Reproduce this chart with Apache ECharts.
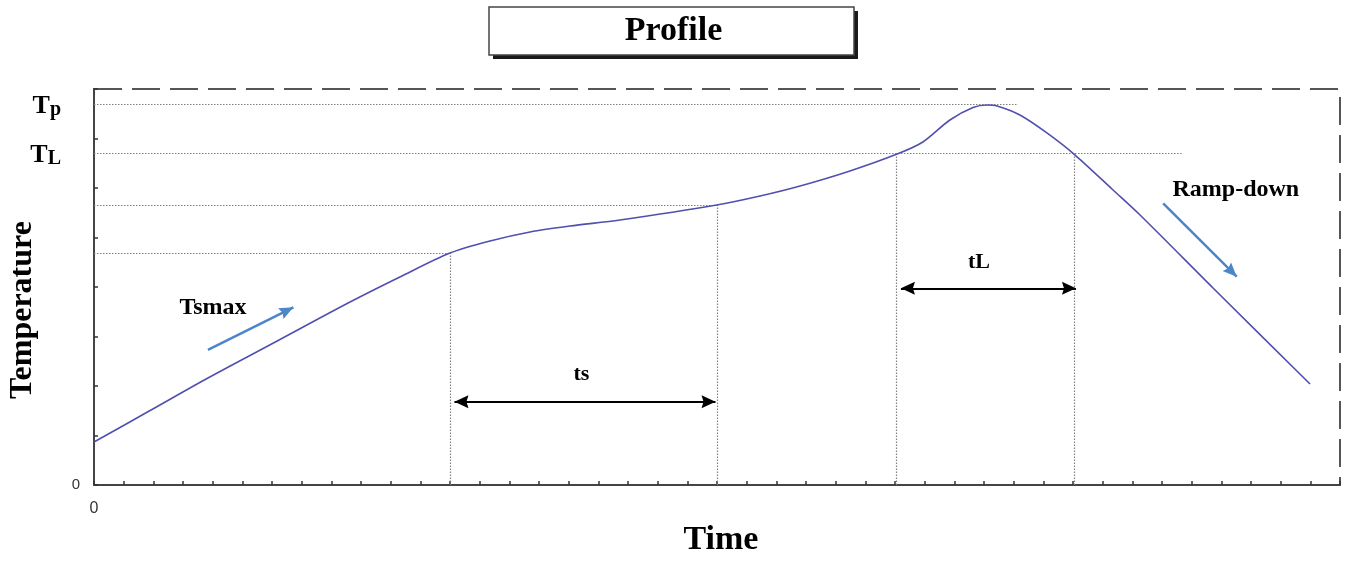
<!DOCTYPE html>
<html><head><meta charset="utf-8">
<script src="https://cdn.jsdelivr.net/npm/echarts@6/dist/echarts.min.js"></script>
<style>html,body{margin:0;padding:0;background:#fff}#c{width:1347px;height:561px}</style>
</head><body><div id="c"></div>
<script>
// Reflow profile curve (time units, temperature units)
const curveTime = [0, 1.89, 3.84, 6.27, 8.63, 10.31, 12, 13.35, 14.7, 16.04, 17.73, 20.99, 22.45, 23.8, 25.48, 27.07, 27.94, 28.85, 29.63, 30.1, 30.44, 31.21, 32.12, 33.07, 34.35, 35.26, 37.72, 40.99];
const curveTemp = [43.4, 75.2, 108.1, 147, 184.8, 210.1, 234.3, 246.5, 255.6, 261.6, 267.7, 282.8, 291.9, 302, 317.2, 334.3, 346.5, 368.7, 381.3, 383.8, 382.8, 373.7, 355.6, 333.3, 298, 272.7, 199, 102];

// Horizontal dotted guide levels and where they end
const guideLevels = [384.5, 335, 282.8, 234.2];
const guideLevelEnd = [31.15, 36.67, 21, 12];
// Vertical dotted guides and their tops
const guideTimes = [12, 21, 27.05, 33.05];
const guideTimeTop = [234.2, 282.8, 335, 335];

// Named temperature levels on the y axis
const levelNames = ['Tp', 'TL'];
const levelValues = [384.5, 335];

// Double-headed span arrows
const spanNames = ['ts', 'tL'];
const spanStart = [12.15, 27.2];
const spanEnd = [20.95, 33.1];
const spanTemp = [84.1, 198.7];
const spanLabelTime = [16.43, 29.83];
const spanLabelTemp = [111.9, 224.7];

// Trend arrows
const trendNames = ['Tsmax', 'Ramp-down'];
const trendFromTime = [3.84, 36.04];
const trendFromTemp = [136.4, 284.5];
const trendToTime = [6.72, 38.52];
const trendToTemp = [179.5, 210.4];
const trendLabelTime = [4.01, 38.49];
const trendLabelTemp = [179, 297.9];

const xTickLabels = ['0'];
const yTickLabels = ['0'];

const SERIF = '"Liberation Serif","Times New Roman",serif';
const SANS = '"Liberation Sans",Arial,sans-serif';
const HEAD = 'path://M0,0 L7,14 L0,12 L-7,14 Z';

const chart = echarts.init(document.getElementById('c'));

const guideLines = [];
guideLevels.forEach((v, i) => guideLines.push([{coord: [0, v]}, {coord: [guideLevelEnd[i], v]}]));
guideTimes.forEach((t, i) => guideLines.push([{coord: [t, 0]}, {coord: [t, guideTimeTop[i]]}]));

const spanHead = {symbol: HEAD, symbolSize: [13, 14], symbolOffset: [0, 7]};
const spanLines = spanNames.map((n, i) => [
  Object.assign({coord: [spanStart[i], spanTemp[i]]}, spanHead),
  Object.assign({coord: [spanEnd[i], spanTemp[i]]}, spanHead)
]);
const trendLines = trendNames.map((n, i) => [
  {coord: [trendFromTime[i], trendFromTemp[i]], symbol: 'none', symbolSize: 1},
  {coord: [trendToTime[i], trendToTemp[i]], symbol: HEAD, symbolSize: [12, 14], symbolOffset: [0, 7]}
]);

chart.setOption({
  animation: false,
  title: {
    text: 'Profile', left: 'center', top: 7, padding: [7, 0, 7, 0],
    textStyle: {fontFamily: SERIF, fontWeight: 'bold', fontSize: 34, color: '#000'}
  },
  graphic: [
    {type: 'rect', id: 'boxShadow', z: 0, shape: {x: 493, y: 11, width: 365, height: 48}, style: {fill: '#1a1a1a'}},
    {type: 'rect', id: 'boxFace', z: 1, shape: {x: 489, y: 7, width: 365, height: 48}, style: {fill: '#fff', stroke: '#444', lineWidth: 1.5}}
  ],
  grid: {left: 94, right: 7, top: 89, bottom: 76, outerBoundsMode: 'none', containLabel: false,
    show: true, borderColor: '#555', borderWidth: 2, borderType: [28, 10], backgroundColor: 'transparent'},
  xAxis: {
    type: 'value', min: 0, max: 42, interval: 1,
    axisLine: {show: true, lineStyle: {color: '#444', width: 2}},
    axisTick: {show: true, inside: true, length: 4, lineStyle: {color: '#333', width: 1.5}},
    axisLabel: {margin: 16, fontSize: 16, color: '#333', fontFamily: SANS, formatter: v => v === 0 ? xTickLabels[0] : ''},
    splitLine: {show: false},
    name: 'Time', nameLocation: 'middle', nameGap: 38,
    nameTextStyle: {fontFamily: SERIF, fontWeight: 'bold', fontSize: 34, color: '#000', padding: [0, 0, 0, 8]}
  },
  yAxis: [{
    type: 'value', min: 0, max: 400, interval: 50,
    axisLine: {show: true, lineStyle: {color: '#444', width: 2}},
    axisTick: {show: true, inside: true, length: 4, lineStyle: {color: '#333', width: 1.5}},
    axisLabel: {margin: 14, fontSize: 15, color: '#333', fontFamily: SANS, formatter: v => v === 0 ? yTickLabels[0] : ''},
    splitLine: {show: false},
    name: 'Temperature', nameLocation: 'middle', nameGap: 55, nameRotate: 90,
    nameTextStyle: {fontFamily: SERIF, fontWeight: 'bold', fontSize: 32, color: '#000', padding: [0, 46, 0, 0]}
  }, {
    type: 'value', min: 0, max: 400, position: 'left',
    axisLine: {show: false}, axisTick: {show: false}, splitLine: {show: false},
    axisLabel: {
      margin: 33, customValues: levelValues,
      formatter: v => { const n = levelNames[levelValues.indexOf(v)] || ''; return n ? '{big|' + n[0] + '}{small|' + n.slice(1) + '}' : ''; },
      rich: {
        big: {fontFamily: SERIF, fontWeight: 'bold', fontSize: 26, color: '#000', verticalAlign: 'bottom', padding: [4, 0, 0, 0]},
        small: {fontFamily: SERIF, fontWeight: 'bold', fontSize: 20, color: '#000', verticalAlign: 'bottom', padding: [4, 0, 0, 0]}
      }
    }
  }],
  series: [{
    name: 'profile', type: 'line', smooth: 0.3, showSymbol: false, z: 5,
    data: curveTime.map((t, i) => [t, curveTemp[i]]),
    lineStyle: {color: '#5050ae', width: 1.6}
  }, {
    name: 'guides', type: 'line', data: [], silent: true,
    markLine: {silent: true, symbol: 'none', label: {show: false},
      lineStyle: {color: '#808080', width: 1.2, type: [1.5, 1.5]}, emphasis: {disabled: true}, data: guideLines}
  }, {
    name: 'spans', type: 'line', data: [], silent: true,
    markLine: {silent: true, symbol: 'none', symbolSize: 12, label: {show: false},
      lineStyle: {color: '#000', width: 2, type: 'solid'}, itemStyle: {color: '#000'}, emphasis: {disabled: true}, data: spanLines}
  }, {
    name: 'trends', type: 'line', data: [], silent: true,
    markLine: {silent: true, symbol: 'none', symbolSize: 12, label: {show: false},
      lineStyle: {color: '#4a86c8', width: 2.5, type: 'solid'}, itemStyle: {color: '#4a86c8'}, emphasis: {disabled: true}, data: trendLines}
  }]
});

const graphics = [];
spanNames.forEach((n, i) => {
  const p = chart.convertToPixel({gridIndex: 0}, [spanLabelTime[i], spanLabelTemp[i]]);
  graphics.push({type: 'text', id: 'span' + i, x: p[0], y: p[1], z: 10, style: {text: n, font: 'bold 22px ' + SERIF, fill: '#000', align: 'center', verticalAlign: 'middle'}});
});
trendNames.forEach((n, i) => {
  const p = chart.convertToPixel({gridIndex: 0}, [trendLabelTime[i], trendLabelTemp[i]]);
  graphics.push({type: 'text', id: 'trend' + i, x: p[0], y: p[1], z: 10, style: {text: n, font: 'bold 24px ' + SERIF, fill: '#000', align: 'center', verticalAlign: 'middle'}});
});
chart.setOption({graphic: graphics});
</script></body></html>
